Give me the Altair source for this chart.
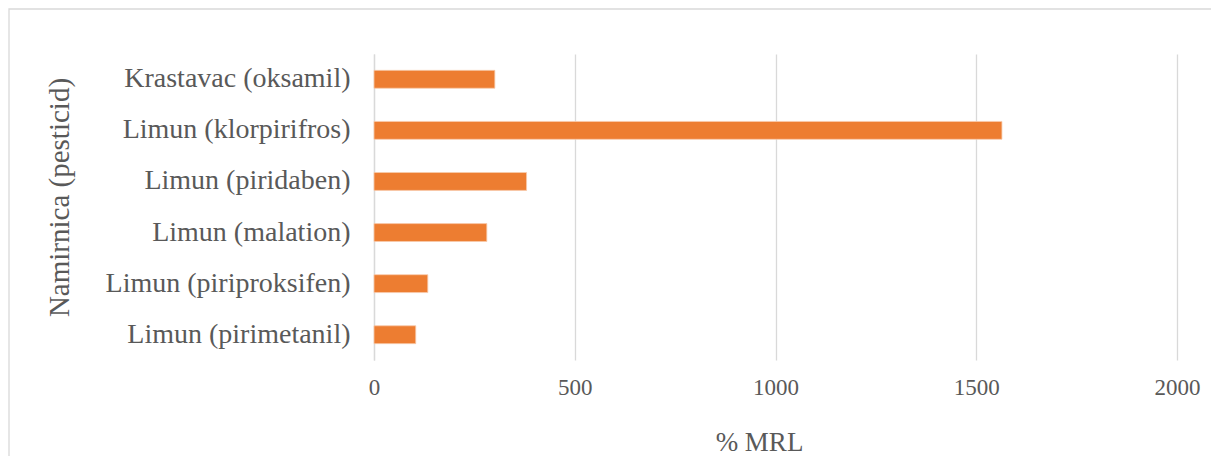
import altair as alt
import pandas as pd

categories = ["Krastavac (oksamil)", "Limun (klorpirifros)", "Limun (piridaben)",
              "Limun (malation)", "Limun (piriproksifen)", "Limun (pirimetanil)"]
values = [301, 1564, 380, 281, 134, 104]

df = pd.DataFrame({"cat": categories, "val": values})

W, H = 803, 306
FONT = "Times New Roman, Liberation Serif, DejaVu Serif, serif"
TXT = "#595959"

bars = alt.Chart(df).mark_bar(color="#ED7D31", stroke="#F8CBAD", strokeWidth=0.8).encode(
    x=alt.X("val:Q", scale=alt.Scale(domain=[0, 2000], nice=False),
            axis=alt.Axis(values=[0, 500, 1000, 1500, 2000], title="% MRL", format="d",
                          grid=True, gridColor="#D9D9D9", gridWidth=1.3,
                          domain=False, ticks=False, labelPadding=16, labelFlush=False,
                          labelFont=FONT, labelFontSize=23, labelColor=TXT,
                          titleFont=FONT, titleFontSize=27, titleColor=TXT,
                          titleFontWeight="normal", titleX=385, titleY=90,
                          titleBaseline="alphabetic")),
    y=alt.Y("cat:N", sort=categories,
            scale=alt.Scale(paddingInner=0.65, paddingOuter=0.32),
            axis=alt.Axis(title="Namirnica (pesticid)", domain=True, domainColor="#D9D9D9",
                          domainWidth=1.3, ticks=False, labelPadding=24, labelLimit=0,
                          labelFont=FONT, labelFontSize=28, labelColor=TXT,
                          titleFont=FONT, titleFontSize=29, titleColor=TXT,
                          titleFontWeight="normal", titleX=-315, titleY=143,
                          titleBaseline="middle")),
)

border = alt.Chart(df.head(1)).mark_rect(fill=None, stroke="#D9D9D9", strokeWidth=1.3).encode(
    x=alt.value(-365), x2=alt.value(W + 100), y=alt.value(-45), y2=alt.value(H + 150)
)

chart = alt.layer(border, bars).properties(
    width=W, height=H,
    autosize=alt.AutoSizeParams(type="none"),
    padding={"left": 366, "top": 46, "right": 34, "bottom": 96},
).configure(background="white").configure_view(stroke=None)

chart.save("out.html", embed_options={"renderer": "svg", "actions": False})
